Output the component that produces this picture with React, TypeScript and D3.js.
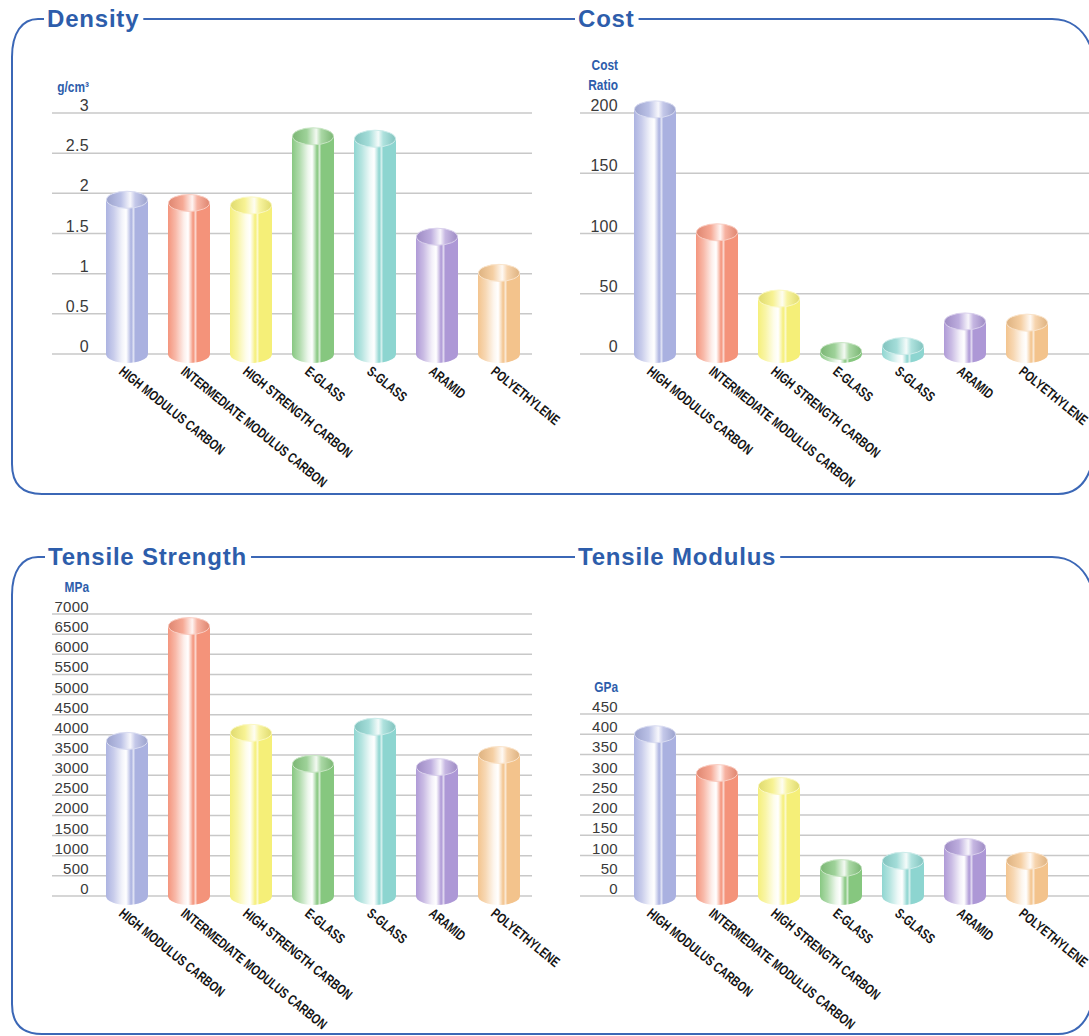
import React, { useEffect, useRef } from 'react';
import * as d3 from 'd3';

const categories = [
  'HIGH MODULUS CARBON',
  'INTERMEDIATE MODULUS CARBON',
  'HIGH STRENGTH CARBON',
  'E-GLASS',
  'S-GLASS',
  'ARAMID',
  'POLYETHYLENE',
];

const barColors = ['#aab1e0', '#f4937a', '#f5ef78', '#86c77f', '#8dd5d0', '#ad98d6', '#f3c38c'];

const densityValues = [1.92, 1.88, 1.85, 2.71, 2.68, 1.46, 1.01];
const densityTicks = [0, 0.5, 1, 1.5, 2, 2.5, 3];

const costValues = [203, 101, 46, 2.5, 6.5, 27, 26];
const costTicks = [0, 50, 100, 150, 200];

const strengthValues = [3850, 6700, 4050, 3280, 4200, 3200, 3500];
const strengthTicks = [0, 500, 1000, 1500, 2000, 2500, 3000, 3500, 4000, 4500, 5000, 5500, 6000, 6500, 7000];

const modulusValues = [400, 304, 272, 69, 87, 121, 87];
const modulusTicks = [0, 50, 100, 150, 200, 250, 300, 350, 400, 450];

const W = 1089;
const H = 1036;
const BLUE = '#2d5dab';
const FRAME = '#3b67b6';

interface Panel {
  title: string;
  titleX: number;
  titleY: number;
  unit: string[];
  unitY: number[];
  values: number[];
  ticks: number[];
  gridX: [number, number];
  band: [number, number];
  yRange: [number, number];
  labelX: number;
  tickSize: number;
}

const panels: Panel[] = [
  {
    title: 'Density', titleX: 47, titleY: 27, unit: ['g/cm³'], unitY: [92],
    values: densityValues, ticks: densityTicks,
    gridX: [52, 532], band: [96, 530], yRange: [354, 113], labelX: 89, tickSize: 16,
  },
  {
    title: 'Cost', titleX: 578, titleY: 27, unit: ['Cost', 'Ratio'], unitY: [70, 90],
    values: costValues, ticks: costTicks,
    gridX: [580, 1089], band: [624, 1058], yRange: [354, 113], labelX: 618, tickSize: 16,
  },
  {
    title: 'Tensile Strength', titleX: 48, titleY: 565, unit: ['MPa'], unitY: [592],
    values: strengthValues, ticks: strengthTicks,
    gridX: [52, 532], band: [96, 530], yRange: [896, 614], labelX: 89, tickSize: 15,
  },
  {
    title: 'Tensile Modulus', titleX: 578, titleY: 565, unit: ['GPa'], unitY: [692],
    values: modulusValues, ticks: modulusTicks,
    gridX: [580, 1089], band: [624, 1058], yRange: [896, 714], labelX: 618, tickSize: 15,
  },
];

export default function App() {
  const svgRef = useRef<SVGSVGElement>(null);

  useEffect(() => {
    if (!svgRef.current) return;
    const svg = d3.select(svgRef.current);
    svg.selectAll('*').remove();

    svg.append('rect').attr('width', W).attr('height', H).attr('fill', '#fff');

    // Gradients for the glossy cylinders
    const defs = svg.append('defs');
    barColors.forEach((c, i) => {
      const mix = d3.interpolateRgb(c, '#ffffff');
      const dark = d3.color(c)!.darker(0.25).formatHex();
      const body = defs.append('linearGradient').attr('id', `body-${i}`)
        .attr('x1', '0%').attr('x2', '100%').attr('y1', '0%').attr('y2', '0%');
      [
        [0, mix(0.02)], [0.18, mix(0.35)], [0.38, mix(0.85)], [0.48, '#ffffff'],
        [0.55, mix(0.45)], [0.6, c], [0.655, mix(0.6)], [0.7, c], [1, c],
      ].forEach(([o, col]) => body.append('stop').attr('offset', o as number).attr('stop-color', col as string));

      const top = defs.append('linearGradient').attr('id', `top-${i}`)
        .attr('x1', '0%').attr('x2', '100%').attr('y1', '0%').attr('y2', '0%');
      [
        [0, dark], [0.35, mix(0.2)], [0.58, mix(0.9)], [0.7, mix(0.3)], [1, dark],
      ].forEach(([o, col]) => top.append('stop').attr('offset', o as number).attr('stop-color', col as string));
    });

    const rx = 21;
    const ry = 9;

    panels.forEach((p) => {
      const g = svg.append('g');
      const y = d3.scaleLinear().domain([0, p.ticks[p.ticks.length - 1]]).range(p.yRange);
      const x = d3.scaleBand<string>().domain(categories).range(p.band)
        .paddingInner(20 / 62).paddingOuter(10 / 62);

      // grid lines
      g.selectAll('line.grid').data(p.ticks).enter().append('line')
        .attr('x1', p.gridX[0]).attr('x2', p.gridX[1])
        .attr('y1', (d) => y(d)).attr('y2', (d) => y(d))
        .attr('stroke', '#c8c8c8').attr('stroke-width', 1.5);

      // tick labels
      g.selectAll('text.tick').data(p.ticks).enter().append('text')
        .attr('x', p.labelX).attr('y', (d) => y(d) - 2)
        .attr('text-anchor', 'end')
        .style('font-family', 'Liberation Sans, Arial, sans-serif')
        .style('font-size', `${p.tickSize}px`)
        .style('letter-spacing', '0.3px')
        .attr('fill', '#3a3a3a')
        .text((d) => String(d));

      // unit label (condensed bold)
      p.unit.forEach((u, k) => {
        g.append('text')
          .attr('transform', `translate(${p.labelX},${p.unitY[k]}) scale(0.85,1)`)
          .attr('text-anchor', 'end')
          .style('font-family', 'Liberation Sans, Arial, sans-serif')
          .style('font-weight', 'bold')
          .style('font-size', '14px')
          .attr('fill', BLUE)
          .text(u);
      });

      const base = y(0);

      // cylinders
      const bars = g.selectAll('g.bar').data(p.values).enter().append('g');
      bars.append('path')
        .attr('d', (d, i) => {
          const cx = x(categories[i])! + x.bandwidth() / 2;
          const yt = y(d);
          return `M${cx - rx},${yt} L${cx - rx},${base} A${rx},${ry} 0 0 0 ${cx + rx},${base} L${cx + rx},${yt} Z`;
        })
        .attr('fill', (d, i) => `url(#body-${i})`);
      bars.append('ellipse')
        .attr('cx', (d, i) => x(categories[i])! + x.bandwidth() / 2)
        .attr('cy', (d) => y(d))
        .attr('rx', rx - 0.5).attr('ry', ry - 0.5)
        .attr('fill', (d, i) => `url(#top-${i})`)
        .attr('stroke', (d, i) => d3.interpolateRgb(barColors[i], '#ffffff')(0.55))
        .attr('stroke-width', 1);

      // category labels
      g.selectAll('text.cat').data(categories).enter().append('text')
        .attr('transform', (d) => {
          const cx = x(d)! + x.bandwidth() / 2;
          return `translate(${cx - 9},${base + 19}) rotate(39) scale(0.75,1)`;
        })
        .style('font-family', 'Liberation Sans, Arial, sans-serif')
        .style('font-weight', 'bold')
        .style('font-size', '14px')
        .attr('fill', '#151515')
        .text((d) => d);

      // title
      g.append('text')
        .attr('class', 'title')
        .attr('x', p.titleX).attr('y', p.titleY)
        .style('font-family', 'Liberation Sans, Arial, sans-serif')
        .style('font-weight', 'bold')
        .style('font-size', '24px')
        .style('letter-spacing', '0.8px')
        .attr('fill', BLUE)
        .text(p.title);
    });

    // frames: measure titles to leave gaps
    const titleNodes = svg.selectAll<SVGTextElement, unknown>('text.title').nodes();
    const ends = titleNodes.map((n) => {
      const b = n.getBBox();
      return [b.x - 3, b.x + b.width + 4];
    });

    const frame = (top: number, bottom: number, t1: number[], t2: number[]) => {
      const f = svg.append('g').attr('fill', 'none').attr('stroke', FRAME).attr('stroke-width', 2);
      f.append('path').attr('d',
        `M${t1[0]},${top} L38,${top} C22,${top} 12,${top + 14} 12,${top + 38} ` +
        `L12,${bottom - 30} C12,${bottom - 10} 22,${bottom} 42,${bottom} ` +
        `L1058,${bottom} C1074,${bottom} 1084,${bottom - 8} 1090,${bottom - 24}`);
      f.append('path').attr('d', `M${t1[1]},${top} L${t2[0]},${top}`);
      f.append('path').attr('d',
        `M${t2[1]},${top} L1052,${top} C1070,${top} 1083,${top + 10} 1090,${top + 26}`);
    };
    frame(19, 494, ends[0], ends[1]);
    frame(557, 1034, ends[2], ends[3]);
  }, []);

  return (
    <svg
      ref={svgRef}
      width={W}
      height={H}
      viewBox={`0 0 ${W} ${H}`}
      style={{ position: 'absolute', left: 0, top: 0, display: 'block' }}
    />
  );
}
